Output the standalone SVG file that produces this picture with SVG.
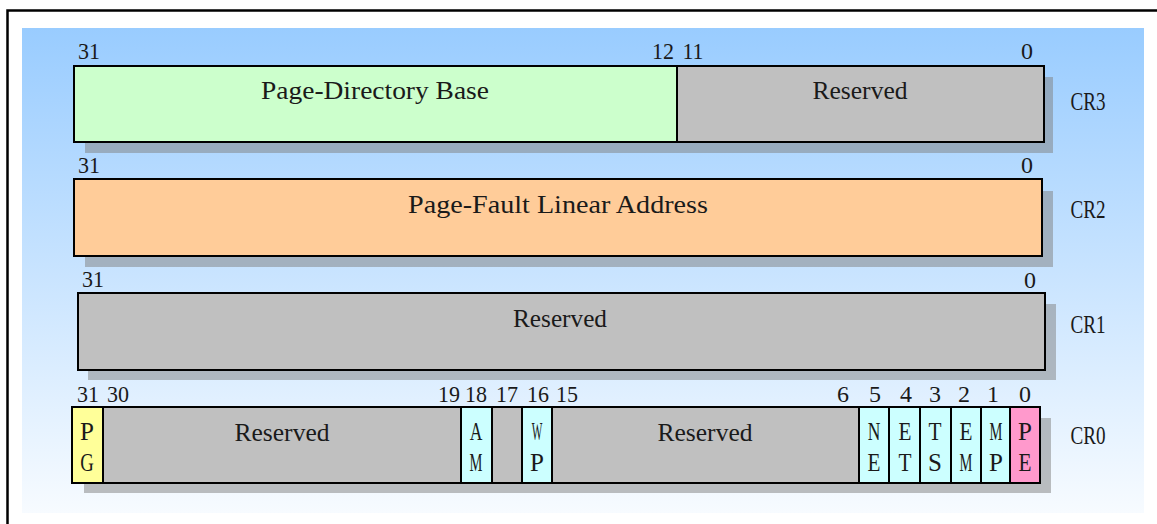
<svg xmlns="http://www.w3.org/2000/svg" width="1157" height="524" viewBox="0 0 1157 524">
<defs>
<linearGradient id="bg" x1="0" y1="0" x2="0" y2="1">
<stop offset="0" stop-color="#99ccff"/>
<stop offset="1" stop-color="#f7fbff"/>
</linearGradient>
<style>
text{font-family:"Liberation Serif","Times New Roman",serif;font-size:24px;fill:#1a1a1a;text-anchor:middle;}
.w{font-size:25px;}
.s{text-anchor:start;}
.b{stroke:#000;stroke-width:2;}
.sh{fill:#808080;opacity:0.5;}
.g{fill:#c0c0c0;}
.c{fill:#ccffff;}
</style>
</defs>
<rect x="0" y="0" width="1157" height="524" fill="#ffffff"/>
<path d="M7.5 524 V10.5 H1157" fill="none" stroke="#000" stroke-width="2.5"/>
<rect x="22" y="28" width="1122" height="485" fill="url(#bg)"/>

<g id="cr3">
<rect class="sh" x="85" y="77" width="968" height="76"/>
<rect x="74" y="66" width="603" height="76" fill="#ccffcc" class="b"/>
<rect x="677" y="66" width="367" height="76" class="g b"/>
<text class="s" x="78" y="59" textLength="22" lengthAdjust="spacingAndGlyphs">31</text>
<text x="663" y="59" textLength="22" lengthAdjust="spacingAndGlyphs">12</text>
<text x="693" y="59" textLength="21" lengthAdjust="spacingAndGlyphs">11</text>
<text x="1027" y="59">0</text>
<text class="w" x="375" y="99" textLength="228" lengthAdjust="spacingAndGlyphs">Page-Directory Base</text>
<text class="w" x="860" y="99" textLength="95" lengthAdjust="spacingAndGlyphs">Reserved</text>
<text class="w" x="1088" y="110" textLength="35" lengthAdjust="spacingAndGlyphs">CR3</text>
</g>

<g id="cr2">
<rect class="sh" x="85" y="191" width="968" height="76"/>
<rect x="74" y="179" width="968" height="77" fill="#ffcc99" class="b"/>
<text class="s" x="78" y="173" textLength="22" lengthAdjust="spacingAndGlyphs">31</text>
<text x="1027" y="173">0</text>
<text class="w" x="558" y="213" textLength="300" lengthAdjust="spacingAndGlyphs">Page-Fault Linear Address</text>
<text class="w" x="1088" y="218" textLength="35" lengthAdjust="spacingAndGlyphs">CR2</text>
</g>

<g id="cr1">
<rect class="sh" x="88" y="304" width="968" height="76"/>
<rect x="78" y="293" width="967" height="77" class="g b"/>
<text class="s" x="82" y="287" textLength="22" lengthAdjust="spacingAndGlyphs">31</text>
<text x="1030" y="288">0</text>
<text class="w" x="560" y="327" textLength="94" lengthAdjust="spacingAndGlyphs">Reserved</text>
<text class="w" x="1088" y="333" textLength="35" lengthAdjust="spacingAndGlyphs">CR1</text>
</g>

<g id="cr0">
<rect class="sh" x="84" y="418" width="967" height="75"/>
<rect x="72" y="407" width="31" height="76" fill="#ffff99" class="b"/>
<rect x="103" y="407" width="358" height="76" class="g b"/>
<rect x="461" y="407" width="31" height="76" class="c b"/>
<rect x="492" y="407" width="30" height="76" class="g b"/>
<rect x="522" y="407" width="30" height="76" class="c b"/>
<rect x="552" y="407" width="307" height="76" class="g b"/>
<rect x="859" y="407" width="30" height="76" class="c b"/>
<rect x="889" y="407" width="31" height="76" class="c b"/>
<rect x="920" y="407" width="31" height="76" class="c b"/>
<rect x="951" y="407" width="30" height="76" class="c b"/>
<rect x="981" y="407" width="29" height="76" class="c b"/>
<rect x="1010" y="407" width="30" height="76" fill="#ff99cc" class="b"/>
<text x="88" y="402" textLength="22" lengthAdjust="spacingAndGlyphs">31</text>
<text x="118" y="402" textLength="22" lengthAdjust="spacingAndGlyphs">30</text>
<text x="449" y="402" textLength="22" lengthAdjust="spacingAndGlyphs">19</text>
<text x="476" y="402" textLength="22" lengthAdjust="spacingAndGlyphs">18</text>
<text x="507" y="402" textLength="22" lengthAdjust="spacingAndGlyphs">17</text>
<text x="538" y="402" textLength="22" lengthAdjust="spacingAndGlyphs">16</text>
<text x="567" y="402" textLength="22" lengthAdjust="spacingAndGlyphs">15</text>
<text x="843" y="402">6</text>
<text x="875" y="402">5</text>
<text x="906" y="402">4</text>
<text x="935" y="402">3</text>
<text x="964" y="402">2</text>
<text x="993" y="402">1</text>
<text x="1025" y="402">0</text>
<text class="w" x="282" y="441" textLength="95" lengthAdjust="spacingAndGlyphs">Reserved</text>
<text class="w" x="705" y="441" textLength="95" lengthAdjust="spacingAndGlyphs">Reserved</text>
<text class="w" x="87" y="440">P</text>
<text class="w" transform="translate(87 471) scale(0.75 1)">G</text>
<text class="w" transform="translate(476 440) scale(0.7 1)">A</text>
<text class="w" transform="translate(476 471) scale(0.58 1)">M</text>
<text class="w" transform="translate(537 440) scale(0.45 1)">W</text>
<text class="w" x="537" y="471">P</text>
<text class="w" transform="translate(874 440) scale(0.7 1)">N</text>
<text class="w" transform="translate(874 471) scale(0.85 1)">E</text>
<text class="w" transform="translate(905 440) scale(0.85 1)">E</text>
<text class="w" transform="translate(905 471) scale(0.85 1)">T</text>
<text class="w" transform="translate(935 440) scale(0.85 1)">T</text>
<text class="w" x="935" y="471">S</text>
<text class="w" transform="translate(966 440) scale(0.85 1)">E</text>
<text class="w" transform="translate(966 471) scale(0.58 1)">M</text>
<text class="w" transform="translate(996 440) scale(0.58 1)">M</text>
<text class="w" x="996" y="471">P</text>
<text class="w" x="1025" y="440">P</text>
<text class="w" transform="translate(1025 471) scale(0.85 1)">E</text>
<text class="w" x="1088" y="444" textLength="35" lengthAdjust="spacingAndGlyphs">CR0</text>
</g>
</svg>
